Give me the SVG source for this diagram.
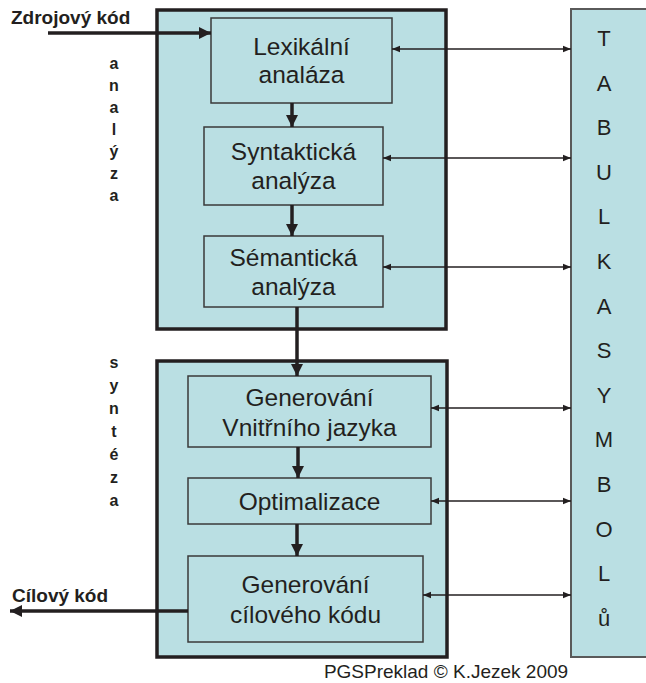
<svg xmlns="http://www.w3.org/2000/svg" width="646" height="683" viewBox="0 0 646 683">
<defs>
<style>
.bg{fill:#fff}
.outer{fill:#BADFE3;stroke:#231F20;stroke-width:3.5}
.box{fill:#BADFE3;stroke:#3A3A3A;stroke-width:1.5}
.tab{fill:#BADFE3;stroke:#5A5A5A;stroke-width:2}
.t{font-family:"Liberation Sans",Arial,sans-serif;fill:#231F20;text-anchor:middle}
.bt{font-size:24.5px}
.lbl{font-family:"Liberation Sans",Arial,sans-serif;fill:#231F20;font-weight:bold;font-size:19px}
.vl{font-family:"Liberation Sans",Arial,sans-serif;fill:#231F20;font-weight:bold;font-size:16px;text-anchor:middle}
.tl{font-size:22px}
.thick{stroke:#231F20;stroke-width:3.5;fill:none}
.thin{stroke:#231F20;stroke-width:1.3;fill:none}
</style>
<marker id="big" viewBox="0 0 10 10" refX="10" refY="5" markerWidth="12" markerHeight="12" markerUnits="userSpaceOnUse" orient="auto">
<path d="M0,0 L10,5 L0,10 z" fill="#231F20"/>
</marker>
<marker id="small" viewBox="0 0 10 10" refX="10" refY="5" markerWidth="8" markerHeight="8" markerUnits="userSpaceOnUse" orient="auto-start-reverse">
<path d="M0,1 L10,5 L0,9 z" fill="#231F20"/>
</marker>
</defs>
<rect class="bg" x="0" y="0" width="646" height="683"/>

<g id="analysis-block">
<rect class="outer" x="157" y="10" width="289" height="319"/>
</g>
<g id="synthesis-block">
<rect class="outer" x="157" y="361" width="290" height="296"/>
</g>
<g id="symbol-table">
<rect class="tab" x="571" y="9" width="100" height="648"/>
<text class="t tl" x="604" y="46">T</text>
<text class="t tl" x="604" y="91">A</text>
<text class="t tl" x="604" y="135">B</text>
<text class="t tl" x="604" y="180">U</text>
<text class="t tl" x="604" y="224">L</text>
<text class="t tl" x="604" y="269">K</text>
<text class="t tl" x="604" y="314">A</text>
<text class="t tl" x="604" y="358">S</text>
<text class="t tl" x="604" y="403">Y</text>
<text class="t tl" x="604" y="447">M</text>
<text class="t tl" x="604" y="492">B</text>
<text class="t tl" x="604" y="537">O</text>
<text class="t tl" x="604" y="581">L</text>
<text class="t tl" x="604" y="626">ů</text>
</g>

<g id="lexikalni">
<rect class="box" x="211" y="18" width="181" height="85"/>
<text class="t bt" x="301.5" y="55">Lexikální</text>
<text class="t bt" x="301.5" y="83">analáza</text>
</g>
<g id="syntakticka">
<rect class="box" x="204" y="127" width="179" height="78"/>
<text class="t bt" x="293.5" y="160">Syntaktická</text>
<text class="t bt" x="293.5" y="189">analýza</text>
</g>
<g id="semanticka">
<rect class="box" x="204" y="236" width="179" height="71"/>
<text class="t bt" x="293.5" y="266">Sémantická</text>
<text class="t bt" x="293.5" y="295">analýza</text>
</g>
<g id="generovani-vnitrniho">
<rect class="box" x="188" y="376" width="243" height="71"/>
<text class="t bt" x="309.5" y="406">Generování</text>
<text class="t bt" x="309.5" y="436">Vnitřního jazyka</text>
</g>
<g id="optimalizace">
<rect class="box" x="188" y="478" width="243" height="46"/>
<text class="t bt" x="309.5" y="510">Optimalizace</text>
</g>
<g id="generovani-ciloveho">
<rect class="box" x="188" y="556" width="235" height="86"/>
<text class="t bt" x="305.5" y="593">Generování</text>
<text class="t bt" x="305.5" y="623">cílového kódu</text>
</g>

<g id="labels">
<text class="lbl" x="11" y="24">Zdrojový kód</text>
<text class="lbl" x="12" y="602">Cílový kód</text>
<text class="vl" x="114" y="69">a</text>
<text class="vl" x="114" y="91">n</text>
<text class="vl" x="114" y="113">a</text>
<text class="vl" x="114" y="135">l</text>
<text class="vl" x="114" y="157">ý</text>
<text class="vl" x="114" y="179">z</text>
<text class="vl" x="114" y="201">a</text>
<text class="vl" x="114" y="368">s</text>
<text class="vl" x="114" y="391">y</text>
<text class="vl" x="114" y="414">n</text>
<text class="vl" x="114" y="437">t</text>
<text class="vl" x="114" y="460">é</text>
<text class="vl" x="114" y="483">z</text>
<text class="vl" x="114" y="506">a</text>
<text class="t" x="446" y="678" style="font-size:19px">PGSPreklad © K.Jezek 2009</text>
</g>

<g id="connectors">
<line class="thick" x1="48" y1="33" x2="211" y2="33" marker-end="url(#big)"/>
<line class="thick" x1="188" y1="611" x2="10" y2="611" marker-end="url(#big)"/>
<line class="thick" x1="292" y1="103" x2="292" y2="127" marker-end="url(#big)"/>
<line class="thick" x1="292" y1="205" x2="292" y2="236" marker-end="url(#big)"/>
<line class="thick" x1="297" y1="307" x2="297" y2="376" marker-end="url(#big)"/>
<line class="thick" x1="298" y1="447" x2="298" y2="478" marker-end="url(#big)"/>
<line class="thick" x1="297" y1="524" x2="297" y2="556" marker-end="url(#big)"/>
<line class="thin" x1="392" y1="49" x2="571" y2="49" marker-start="url(#small)" marker-end="url(#small)"/>
<line class="thin" x1="383" y1="158" x2="571" y2="158" marker-start="url(#small)" marker-end="url(#small)"/>
<line class="thin" x1="383" y1="267" x2="571" y2="267" marker-start="url(#small)" marker-end="url(#small)"/>
<line class="thin" x1="431" y1="408" x2="571" y2="408" marker-start="url(#small)" marker-end="url(#small)"/>
<line class="thin" x1="431" y1="501" x2="571" y2="501" marker-start="url(#small)" marker-end="url(#small)"/>
<line class="thin" x1="423" y1="595" x2="571" y2="595" marker-start="url(#small)" marker-end="url(#small)"/>
</g>
</svg>
